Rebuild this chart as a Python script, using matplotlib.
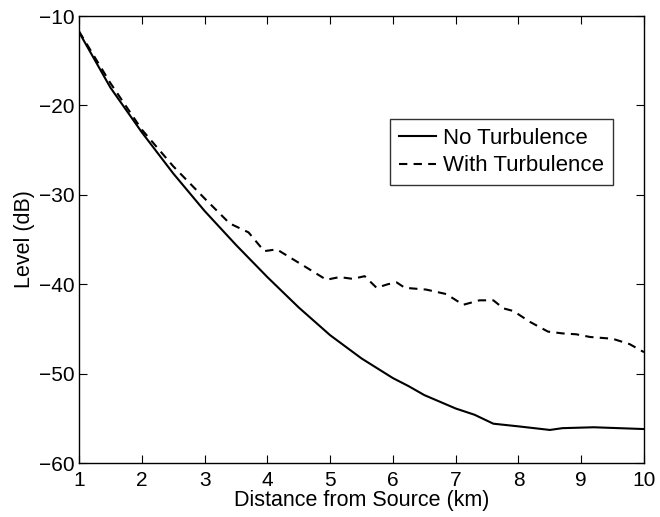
import matplotlib
matplotlib.use("Agg")
import matplotlib.pyplot as plt

plt.rcParams['font.family'] = ['Liberation Sans', 'DejaVu Sans']

x_solid = [1, 1.5, 2, 2.5, 3, 3.5, 4, 4.5, 5, 5.5, 6, 6.25, 6.5, 7, 7.3, 7.6, 8, 8.5, 8.7, 9.2, 10]
y_solid = [-11.8, -18.0, -23.0, -27.6, -31.8, -35.6, -39.2, -42.6, -45.7, -48.3, -50.5, -51.4,
           -52.4, -53.9, -54.6, -55.6, -55.9, -56.3, -56.1, -56.0, -56.2]

x_dash = [1, 1.5, 2, 2.5, 3, 3.4, 3.7, 3.95, 4.15, 4.57, 4.94, 5.15, 5.36, 5.55, 5.74, 5.92, 6.06,
          6.19, 6.53, 6.85, 7.12, 7.38, 7.6, 7.76, 7.92, 8.18, 8.47, 8.7, 8.92, 9.14, 9.5, 9.77, 10]
y_dash = [-11.7, -17.5, -22.7, -26.8, -30.4, -33.2, -34.2, -36.3, -36.1, -37.9, -39.5, -39.2, -39.4,
          -39.1, -40.4, -40.0, -39.8, -40.4, -40.6, -41.1, -42.3, -41.8, -41.8, -42.7, -43.0, -44.2,
          -45.3, -45.5, -45.6, -45.9, -46.1, -46.7, -47.6]

x_ticks = [1, 2, 3, 4, 5, 6, 7, 8, 9, 10]
y_ticks = [-60, -50, -40, -30, -20, -10]

fig = plt.figure(figsize=(6.6, 5.17), dpi=100)
ax = fig.add_axes([0.1197, 0.1044, 0.8561, 0.8646])
ax.plot(x_solid, y_solid, color='black', lw=1.5, label='No Turbulence')
ax.plot(x_dash, y_dash, color='black', lw=1.5, ls=(0, (4, 3)), label='With Turbulence')
ax.set_xlim(1, 10)
ax.set_ylim(-60, -10)
ax.set_xticks(x_ticks)
ax.set_yticks(y_ticks)
ax.set_yticklabels(['\u221260', '\u221250', '\u221240', '\u221230', '\u221220', '\u221210'])
ax.tick_params(direction='in', top=True, right=True, labelsize=15, length=6)
ax.tick_params(axis='x', pad=6)
ax.tick_params(axis='y', pad=3)
ax.set_xlabel('Distance from Source (km)', fontsize=15.5, labelpad=0)
ax.set_ylabel('Level (dB)', fontsize=15.5, labelpad=3)
for s in ax.spines.values():
    s.set_linewidth(1.0)
leg = ax.legend(loc='upper left', bbox_to_anchor=(0.550, 0.770), fontsize=16, frameon=True,
                fancybox=False, edgecolor='black', handlelength=1.7, handletextpad=0.3,
                borderpad=0.4, labelspacing=0.3, borderaxespad=0)
leg.get_frame().set_linewidth(1.0)
fig.savefig('out.png', dpi=100)
